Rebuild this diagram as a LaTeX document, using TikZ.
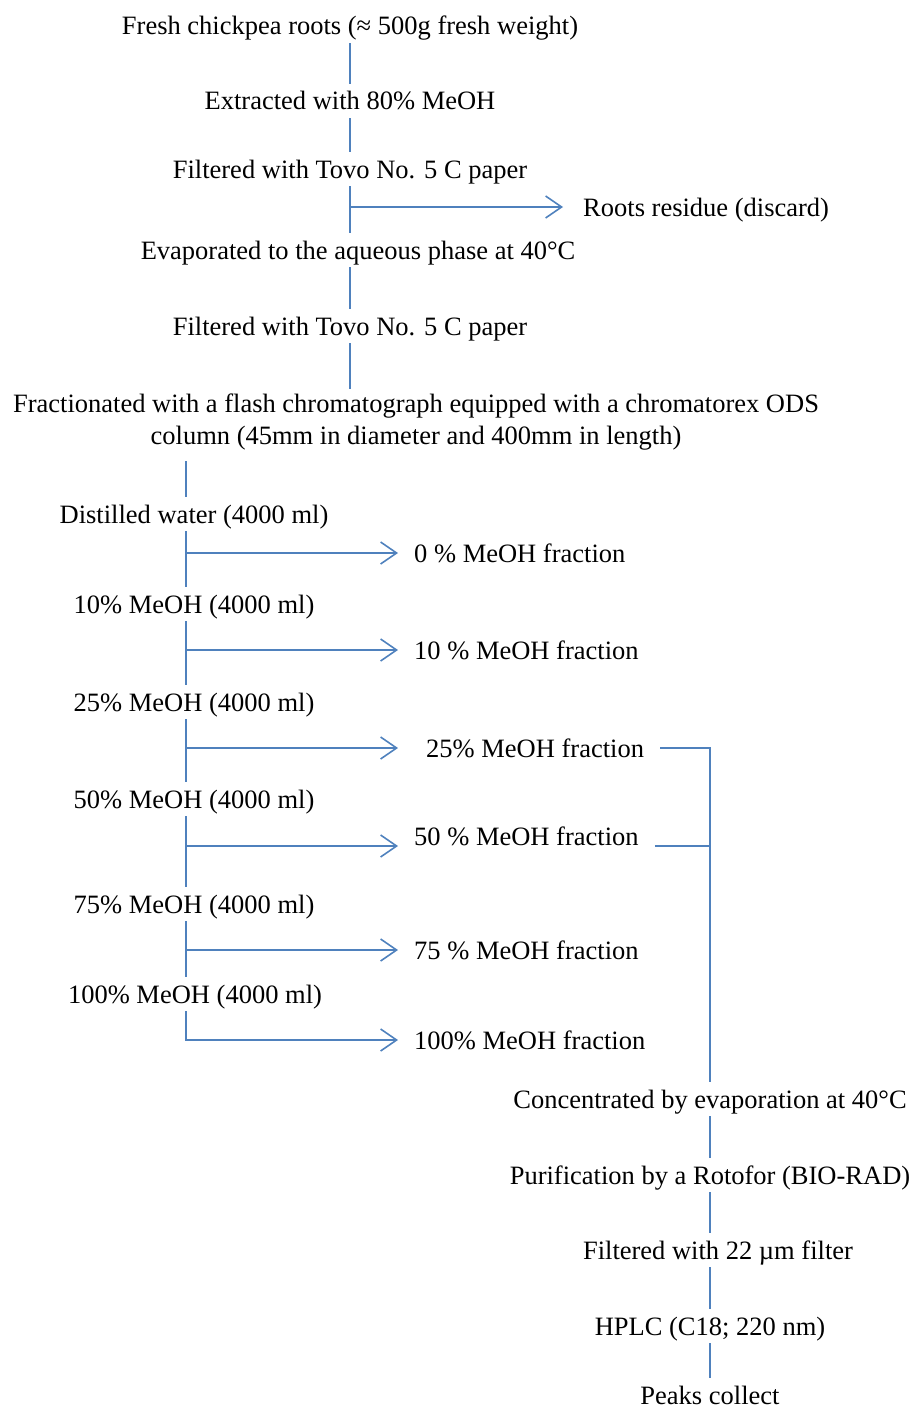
\documentclass[tikz,border=0pt]{standalone}
\usepackage{fontspec}
\setmainfont{Liberation Serif}
\usetikzlibrary{arrows.meta}
\definecolor{flowblue}{HTML}{4F81BD}

\begin{document}
\begin{tikzpicture}[
    x=1pt, y=-1pt,
    font=\fontsize{26.5}{32}\selectfont,
    link/.style={draw=flowblue, line width=1.6pt},
    arrow/.style={link, -{Straight Barb[length=16pt, width=22pt]}},
    stage/.style={
        inner xsep=2pt,
        inner ysep=5pt,
        text height=21pt,
        text depth=3pt
    },
    fraction/.style={
        stage,
        anchor=west,
        inner xsep=16pt
    }
]
\useasboundingbox (0,0) rectangle (912,1410);

% Extraction steps
\node[stage] (roots) at (350,26) {Fresh chickpea roots (≈ 500g fresh weight)};
\node[stage] (extract) at (350,101) {Extracted with 80\% MeOH};
\node[stage] (filterone) at (350,169) {Filtered  with  Tovo No. 5 C paper};
\node[fraction, inner xsep=20pt] (residue) at (563,207) {Roots residue (discard)};
\node[stage] (evap) at (358,250) {Evaporated to the aqueous phase at 40°C};
\node[stage] (filtertwo) at (350,326) {Filtered  with  Tovo No. 5 C paper};

% Flash chromatography
\node[align=center, inner ysep=5pt] (flash) at (416,422)
    {Fractionated with a flash chromatograph equipped with a chromatorex ODS\\
     column (45mm in diameter and 400mm in length)};

% Elution steps
\coordinate (spine) at (186,462);
\node[stage] (water) at (194,514) {Distilled  water (4000 ml)};
\node[stage] (meohten) at (194,604) {10\% MeOH (4000 ml)};
\node[stage] (meohtwentyfive) at (194,702) {25\% MeOH (4000 ml)};
\node[stage] (meohfifty) at (194,799) {50\% MeOH (4000 ml)};
\node[stage] (meohseventyfive) at (194,904) {75\% MeOH (4000 ml)};
\node[stage] (meohhundred) at (195,994) {100\% MeOH (4000 ml)};

% Fractions
\node[fraction] (fraczero) at (398,553) {0 \% MeOH  fraction};
\node[fraction] (fracten) at (398,650) {10 \% MeOH  fraction};
\node[fraction] (fractwentyfive) at (398,748) {\hspace*{12pt}25\% MeOH  fraction};
\node[fraction] (fracfifty) at (398,836) {50 \% MeOH  fraction};
\node[fraction] (fracseventyfive) at (398,950) {75 \% MeOH  fraction};
\node[fraction] (frachundred) at (398,1040) {100\% MeOH  fraction};

% Purification steps
\node[stage] (conc) at (710,1099) {Concentrated by evaporation at 40°C};
\node[stage] (rotofor) at (710,1175) {Purification by a Rotofor (BIO-RAD)};
\node[stage] (microfilter) at (718,1250) {Filtered with 22 µm filter};
\node[stage] (hplc) at (710,1326) {HPLC (C18; 220 nm)};
\node[stage] (peaks) at (710,1395) {Peaks collect};

% Main line
\draw[link] (roots) -- (extract);
\draw[link] (extract) -- (filterone);
\draw[link] (filterone.south) -- (filterone.south |- evap.north);
\draw[arrow] (residue.west -| filterone.south) -- (residue.west);
\draw[link] (evap.south -| filterone.south) -- (filtertwo.north);
\draw[link] (filtertwo.south) -- (filtertwo.south |- flash.north);

% Elution line
\draw[link, shorten <=6pt] (flash.south -| spine) -- (water.north -| spine);
\draw[link] (water.south -| spine) -- (meohten.north -| spine);
\draw[link] (meohten.south -| spine) -- (meohtwentyfive.north -| spine);
\draw[link] (meohtwentyfive.south -| spine) -- (meohfifty.north -| spine);
\draw[link] (meohfifty.south -| spine) -- (meohseventyfive.north -| spine);
\draw[link] (meohseventyfive.south -| spine) -- (meohhundred.north -| spine);
\draw[arrow] (meohhundred.south -| spine) |- (frachundred.west);

% Fraction arrows
\draw[arrow] (fraczero.west -| spine) -- (fraczero.west);
\draw[arrow] (fracten.west -| spine) -- (fracten.west);
\draw[arrow] (fractwentyfive.west -| spine) -- (fractwentyfive.west);
\draw[arrow] ([yshift=-10pt]fracfifty.west -| spine) -- ([yshift=-10pt]fracfifty.west);
\draw[arrow] (fracseventyfive.west -| spine) -- (fracseventyfive.west);

% Pooled fractions
\draw[link] (fractwentyfive.east) -| (conc.north);
\draw[link] ([yshift=-10pt]fracfifty.east) -- ([yshift=-10pt]fracfifty.east -| conc.north);

% Purification line
\draw[link] (conc) -- (rotofor);
\draw[link] (rotofor.south) -- (rotofor.south |- microfilter.north);
\draw[link] (microfilter.south -| rotofor.south) -- (hplc.north);
\draw[link] (hplc) -- (peaks);

\end{tikzpicture}
\end{document}
